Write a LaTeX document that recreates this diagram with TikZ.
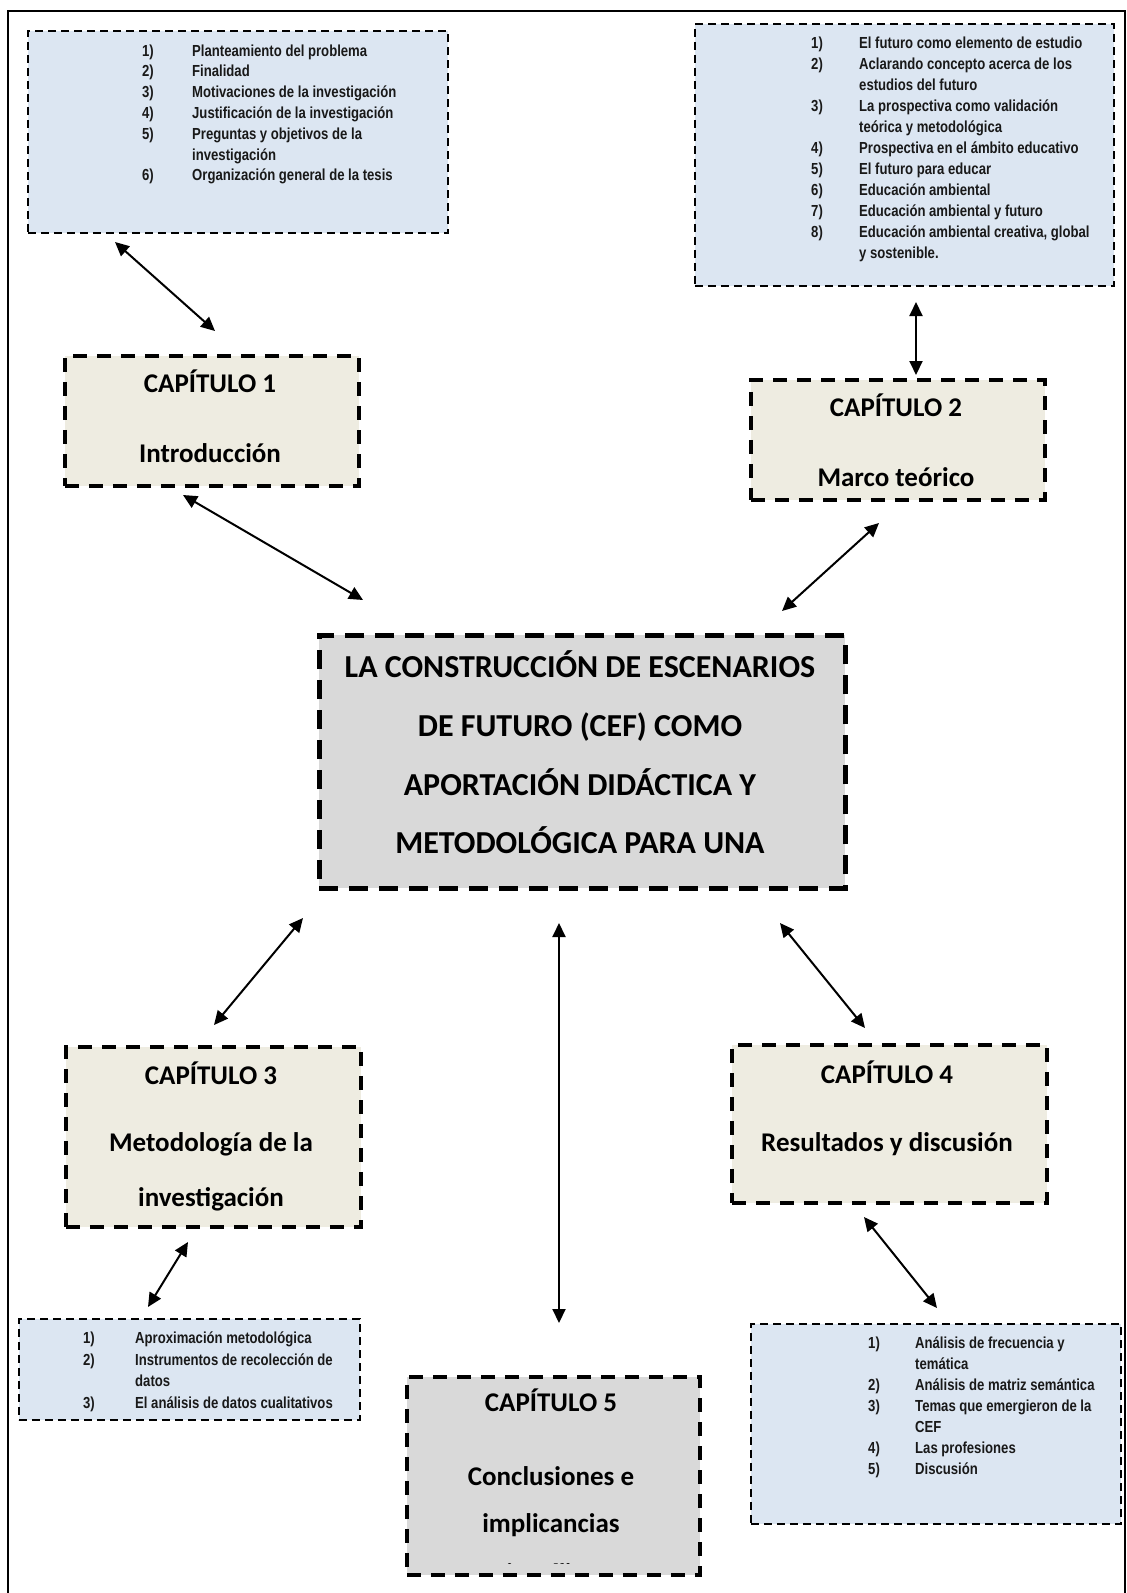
\documentclass[tikz,border=0pt]{standalone}
\usepackage{fontspec}
\usetikzlibrary{arrows.meta}
\newfontfamily\calib{Carlito}
\newfontfamily\narrowfont[FakeStretch=0.82]{Liberation Sans}
\definecolor{listfill}{HTML}{DCE6F2}
\definecolor{capfill}{HTML}{EEECE1}
\definecolor{mainfill}{HTML}{D9D9D9}
\tikzset{
  listbox/.style={draw=black, fill=listfill, line width=1.6pt, dash pattern=on 8pt off 5pt, anchor=north west, inner sep=0pt},
  capbox/.style={draw=black, fill=capfill, line width=3.5pt, dash pattern=on 14pt off 10pt, anchor=north west, inner sep=0pt},
  greybox/.style={draw=black, fill=mainfill, line width=3.5pt, dash pattern=on 14pt off 10pt, anchor=north west, inner sep=0pt},
  mainbox/.style={draw=black, fill=mainfill, line width=4.5pt, dash pattern=on 19pt off 11pt, anchor=north west, inner sep=0pt},
  ttl/.style={font=\calib\bfseries\fontsize{27}{32}\selectfont, inner sep=0pt, anchor=base},
  maintxt/.style={font=\calib\bfseries\fontsize{32}{38}\selectfont, inner sep=0pt, anchor=base},
  listtxt/.style={font=\narrowfont\bfseries\fontsize{16}{21}\selectfont, inner sep=0pt, anchor=base west, text=black!90},
  link/.style={line width=2pt, {Triangle[length=14pt,width=13pt]}-{Triangle[length=14pt,width=13pt]}}
}
\begin{document}
\begin{tikzpicture}[x=1pt,y=-1pt]
\useasboundingbox (0,0) rectangle (1127,1593);
% outer frame
\draw[line width=2pt] (8,1600) -- (8,11) -- (1125,11) -- (1125,1600);

% boxes
\node[listbox, minimum width=420pt, minimum height=202pt] (L1) at (27,30) {};
\node[listbox, minimum width=419pt, minimum height=262pt] (L2) at (694,23) {};
\node[capbox, minimum width=294pt, minimum height=130pt] (C1) at (63,354) {};
\node[capbox, minimum width=294pt, minimum height=120pt] (C2) at (749,378) {};
\node[mainbox, minimum width=526pt, minimum height=253pt] (M) at (317,633) {};
\node[capbox, minimum width=295pt, minimum height=180pt] (C3) at (64,1045) {};
\node[capbox, minimum width=315pt, minimum height=158pt] (C4) at (730,1043) {};
\node[listbox, minimum width=341pt, minimum height=101pt] (L3) at (18,1318) {};
\node[listbox, minimum width=370pt, minimum height=200pt] (L4) at (750,1323) {};
\node[greybox, minimum width=293pt, minimum height=198pt] (C5) at (405,1375) {};

% list texts
\node[listtxt, font=\narrowfont\bfseries\fontsize{16}{20.8}\selectfont] (l1t) at (142,56) {\begin{tabular}[t]{@{}p{50pt}@{}l@{}}
1)&Planteamiento del problema\\
2)&Finalidad\\
3)&Motivaciones de la investigación\\
4)&Justificación de la investigación\\
5)&Preguntas y objetivos de la\\
&investigación\\
6)&Organización general de la tesis
\end{tabular}};
\node[listtxt] (l2t) at (811,48.5) {\begin{tabular}[t]{@{}p{48pt}@{}l@{}}
1)&El futuro como elemento de estudio\\
2)&Aclarando concepto acerca de los\\
&estudios del futuro\\
3)&La prospectiva como validación\\
&teórica y metodológica\\
4)&Prospectiva en el ámbito educativo\\
5)&El futuro para educar\\
6)&Educación ambiental\\
7)&Educación ambiental y futuro\\
8)&Educación ambiental creativa, global\\
&y sostenible.
\end{tabular}};
\node[listtxt, font=\narrowfont\bfseries\fontsize{16}{21.5}\selectfont] (l3t) at (83,1343.5) {\begin{tabular}[t]{@{}p{52pt}@{}l@{}}
1)&Aproximación metodológica\\
2)&Instrumentos de recolección de\\
&datos\\
3)&El análisis de datos cualitativos
\end{tabular}};
\node[listtxt] (l4t) at (868,1348.5) {\begin{tabular}[t]{@{}p{47pt}@{}l@{}}
1)&Análisis de frecuencia y\\
&temática\\
2)&Análisis de matriz semántica\\
3)&Temas que emergieron de la\\
&CEF\\
4)&Las profesiones\\
5)&Discusión
\end{tabular}};

% chapter texts
\node[ttl] (c1a) at (210,392) {CAPÍTULO 1};
\node[ttl] (c1b) at (210,462) {Introducción};
\node[ttl] (c2a) at (896,416) {CAPÍTULO 2};
\node[ttl] (c2b) at (896,486) {Marco teórico};
\node[ttl] (c3a) at (211,1084) {CAPÍTULO 3};
\node[ttl] (c3b) at (211,1151) {Metodología de la};
\node[ttl] (c3c) at (211,1206) {investigación};
\node[ttl] (c4a) at (887,1083) {CAPÍTULO 4};
\node[ttl] (c4b) at (887,1151) {Resultados y discusión};
\node[ttl] (c5a) at (551,1411) {CAPÍTULO 5};
\node[ttl] (c5b) at (551,1485) {Conclusiones e};
\node[ttl] (c5c) at (551,1532) {implicancias};
\begin{scope}
\clip (405,1375) rectangle (698,1563.5);
\node[ttl] (c5d) at (551,1582) {científicas};
\end{scope}

% main text
\node[maintxt] (m1) at (580,677) {LA CONSTRUCCIÓN DE ESCENARIOS};
\node[maintxt] (m2) at (580,736) {DE FUTURO (CEF) COMO};
\node[maintxt] (m3) at (580,795) {APORTACIÓN DIDÁCTICA Y};
\node[maintxt] (m4) at (580,853) {METODOLÓGICA PARA UNA};

% connector end points
\coordinate (a1s) at (115,242); \coordinate (a1e) at (215,331);
\coordinate (a2s) at (916,302); \coordinate (a2e) at (916,375);
\coordinate (a3s) at (183,495); \coordinate (a3e) at (363,600);
\coordinate (a4s) at (879,523); \coordinate (a4e) at (782,611);
\coordinate (a5s) at (303,918); \coordinate (a5e) at (214,1025);
\coordinate (a6s) at (188,1242); \coordinate (a6e) at (148,1307);
\coordinate (a7s) at (559,923); \coordinate (a7e) at (559,1323);
\coordinate (a8s) at (780,923); \coordinate (a8e) at (865,1028);
\coordinate (a9s) at (864,1217); \coordinate (a9e) at (937,1308);

\draw[link] (a1s) -- (a1e);
\draw[link] (a2s) -- (a2e);
\draw[link] (a3s) -- (a3e);
\draw[link] (a4s) -- (a4e);
\draw[link] (a5s) -- (a5e);
\draw[link] (a6s) -- (a6e);
\draw[link] (a7s) -- (a7e);
\draw[link] (a8s) -- (a8e);
\draw[link] (a9s) -- (a9e);
\end{tikzpicture}
\end{document}
